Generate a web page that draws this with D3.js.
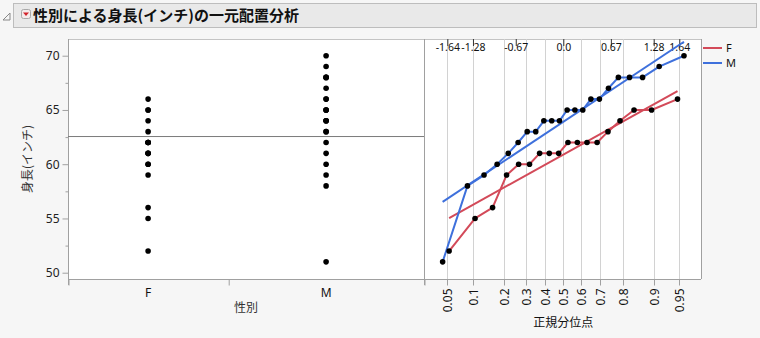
<!DOCTYPE html>
<html>
<head>
<meta charset="utf-8">
<script src="https://cdn.jsdelivr.net/npm/d3@7"></script>
<style>
  html, body { margin: 0; padding: 0; background: #f6f6f6; }
  svg { display: block; }
  text { font-family: "Noto Sans", "Noto Sans CJK JP", sans-serif; }
  .jp { font-family: "Noto Sans CJK JP", sans-serif; }
</style>
</head>
<body>
<svg id="chart" width="760" height="338"></svg>
<script>
// Heights (inches) by sex
const categories = ["F", "M"];
const heightsF = [52, 55, 56, 59, 60, 60, 61, 61, 61, 62, 62, 62, 62, 63, 64, 65, 65, 66];
const heightsM = [51, 58, 59, 60, 61, 62, 63, 63, 64, 64, 64, 65, 65, 65, 66, 66, 67, 68, 68, 68, 69, 70];
const seriesColors = ["#d34a59", "#3e70dc"];

// Axis ticks
const yTicks = [50, 55, 60, 65, 70];
const yMinorTicks = [52.5, 57.5, 62.5, 67.5];
const probTicks = [0.05, 0.1, 0.2, 0.3, 0.4, 0.5, 0.6, 0.7, 0.8, 0.9, 0.95];
const zTicks = [-1.645, -1.2816, -0.6745, 0, 0.6745, 1.2816, 1.645];
const zTickLabels = ["-1.64", "-1.28", "-0.67", "0.0", "0.67", "1.28", "1.64"];

const title = "性別による身長(インチ)の一元配置分析";
const yLabel = "身長(インチ)";
const xLabel = "性別";
const qLabel = "正規分位点";

// Inverse standard normal CDF (Acklam's rational approximation)
function qnorm(p) {
  const a = [-3.969683028665376e+01, 2.209460984245205e+02, -2.759285104469687e+02, 1.383577518672690e+02, -3.066479806614716e+01, 2.506628277459239e+00];
  const b = [-5.447609879822406e+01, 1.615858368580409e+02, -1.556989798598866e+02, 6.680131188771972e+01, -1.328068155288572e+01];
  const c = [-7.784894002430293e-03, -3.223964580411365e-01, -2.400758277161838e+00, -2.549732539343734e+00, 4.374664141464968e+00, 2.938163982698783e+00];
  const d = [7.784695709041462e-03, 3.224671290700398e-01, 2.445134137142996e+00, 3.754408661907416e+00];
  const pl = 0.02425;
  let q, r;
  if (p < pl) {
    q = Math.sqrt(-2 * Math.log(p));
    return (((((c[0]*q+c[1])*q+c[2])*q+c[3])*q+c[4])*q+c[5]) / ((((d[0]*q+d[1])*q+d[2])*q+d[3])*q+1);
  } else if (p <= 1 - pl) {
    q = p - 0.5; r = q * q;
    return (((((a[0]*r+a[1])*r+a[2])*r+a[3])*r+a[4])*r+a[5])*q / (((((b[0]*r+b[1])*r+b[2])*r+b[3])*r+b[4])*r+1);
  } else {
    q = Math.sqrt(-2 * Math.log(1 - p));
    return -(((((c[0]*q+c[1])*q+c[2])*q+c[3])*q+c[4])*q+c[5]) / ((((d[0]*q+d[1])*q+d[2])*q+d[3])*q+1);
  }
}

const groups = [heightsF, heightsM].map((vals, i) => {
  const sorted = vals.slice().sort((a, b) => a - b);
  const n = sorted.length;
  const pts = sorted.map((v, k) => ({ z: qnorm((k + 1) / (n + 1)), v }));
  return { name: categories[i], vals: sorted, n, mean: d3.mean(sorted), sd: d3.deviation(sorted), pts, color: seriesColors[i] };
});
const allHeights = heightsF.concat(heightsM);
const grandMean = d3.mean(allHeights);

const svg = d3.select("#chart");

// Title bar
svg.append("rect").attr("x", 13.5).attr("y", 3.5).attr("width", 743).attr("height", 24)
  .attr("fill", "#e9e9e9").attr("stroke", "#bdbdbd");
svg.append("path").attr("d", "M3,20 L10,13 L10,20 Z").attr("fill", "none").attr("stroke", "#888").attr("stroke-width", 1);
svg.append("rect").attr("x", 21.5).attr("y", 9.5).attr("width", 9).attr("height", 9).attr("rx", 2)
  .attr("fill", "#f4eaea").attr("stroke", "#a8a8a8");
svg.append("path").attr("d", "M23,12.5 L29,12.5 L26,16 Z").attr("fill", "#d2232a");
svg.append("text").attr("class", "jp").attr("x", 33).attr("y", 21)
  .attr("font-size", 15).attr("font-weight", "bold").attr("fill", "#111").text(title);

// Layout
const plotTop = 39, plotBottom = 279, plotLeft = 68, plotMid = 424, plotRight = 701;

const y = d3.scaleLinear().domain([49.42, 71.54]).range([plotBottom, plotTop]);
// Categories take width in proportion to group size
const xCount = d3.scaleLinear().domain([0, allHeights.length]).range([plotLeft, plotMid]);
const bandEdges = [0, groups[0].n, groups[0].n + groups[1].n];
const zScale = d3.scaleLinear().domain([-1.976, 1.953]).range([plotMid, plotRight]);

// Plot backgrounds
svg.append("rect").attr("x", plotLeft).attr("y", plotTop).attr("width", plotRight - plotLeft).attr("height", plotBottom - plotTop).attr("fill", "#fff");
svg.append("line").attr("x1", plotLeft).attr("x2", plotRight).attr("y1", plotTop + 0.5).attr("y2", plotTop + 0.5).attr("stroke", "#c4c4c4");
svg.append("line").attr("x1", plotRight + 0.5).attr("x2", plotRight + 0.5).attr("y1", plotTop).attr("y2", plotBottom).attr("stroke", "#a0a0a0");

// Y axis
const yAxis = d3.axisLeft(y).tickValues(yTicks).tickSize(6).tickPadding(3).tickFormat(d3.format("d"));
const gy = svg.append("g").attr("transform", `translate(${plotLeft + 0.5},0)`).call(yAxis);
gy.select(".domain").remove();
gy.selectAll("line").attr("stroke", "#a0a0a0");
gy.selectAll("text").attr("font-size", 12).attr("fill", "#222");
const gyMinor = svg.append("g").attr("transform", `translate(${plotLeft + 0.5},0)`)
  .call(d3.axisLeft(y).tickValues(yMinorTicks).tickSize(3).tickFormat(""));
gyMinor.select(".domain").remove();
gyMinor.selectAll("line").attr("stroke", "#a0a0a0");
svg.append("line").attr("x1", plotLeft + 0.5).attr("x2", plotLeft + 0.5).attr("y1", plotTop).attr("y2", plotBottom + 6).attr("stroke", "#a0a0a0");
svg.append("text").attr("class", "jp").attr("transform", `translate(32,${(plotTop + plotBottom) / 2}) rotate(-90)`)
  .attr("text-anchor", "middle").attr("font-size", 12).attr("fill", "#333").text(yLabel);

// Category axis (bottom, left panel)
svg.append("line").attr("x1", plotLeft).attr("x2", plotRight).attr("y1", plotBottom + 0.5).attr("y2", plotBottom + 0.5).attr("stroke", "#a0a0a0");
const gx = svg.append("g").attr("transform", `translate(0,${plotBottom + 0.5})`)
  .call(d3.axisBottom(xCount).tickValues(bandEdges).tickSize(6).tickFormat(""));
gx.select(".domain").remove();
gx.selectAll("line").attr("stroke", "#a0a0a0").attr("transform", "translate(0.5,0)");
groups.forEach((g, i) => {
  const cx = xCount((bandEdges[i] + bandEdges[i + 1]) / 2);
  svg.append("text").attr("x", cx).attr("y", plotBottom + 18).attr("text-anchor", "middle")
    .attr("font-size", 12).attr("fill", "#111").text(g.name);
});
svg.append("text").attr("class", "jp").attr("x", xCount(allHeights.length / 2)).attr("y", plotBottom + 33)
  .attr("text-anchor", "middle").attr("font-size", 12).attr("fill", "#333").text(xLabel);

// Grand mean line across the one-way panel
svg.append("line").attr("x1", plotLeft).attr("x2", plotMid).attr("y1", y(grandMean)).attr("y2", y(grandMean))
  .attr("stroke", "#7a7a7a").attr("stroke-width", 1);

// One-way points
groups.forEach((g, i) => {
  const cx = xCount((bandEdges[i] + bandEdges[i + 1]) / 2);
  svg.append("g").selectAll("circle").data(g.vals).join("circle")
    .attr("cx", cx).attr("cy", d => y(d)).attr("r", 2.8).attr("fill", "#000");
});

// Normal quantile panel: gridlines at probability ticks
svg.append("g").selectAll("line").data(probTicks).join("line")
  .attr("x1", d => Math.round(zScale(qnorm(d))) + 0.5).attr("x2", d => Math.round(zScale(qnorm(d))) + 0.5)
  .attr("y1", plotTop).attr("y2", plotBottom).attr("stroke", "#d2d2d2");
svg.append("line").attr("x1", plotMid + 0.5).attr("x2", plotMid + 0.5).attr("y1", plotTop).attr("y2", plotBottom + 6).attr("stroke", "#a0a0a0");

// Bottom probability axis
const probScale = p => zScale(qnorm(p));
const gp = svg.append("g").attr("transform", `translate(0,${plotBottom + 0.5})`);
probTicks.forEach(p => {
  const px = Math.round(probScale(p)) + 0.5;
  gp.append("line").attr("x1", px).attr("x2", px).attr("y1", 0).attr("y2", 6).attr("stroke", "#a0a0a0");
  gp.append("text").attr("transform", `translate(${px + 4},9) rotate(-90)`).attr("text-anchor", "end")
    .attr("font-size", 12).attr("fill", "#111").text(String(p));
});
svg.append("text").attr("class", "jp").attr("x", zScale(0)).attr("y", 327).attr("text-anchor", "middle")
  .attr("font-size", 12).attr("fill", "#111").text(qLabel);

// Top normal quantile axis (inside the frame)
const gz = svg.append("g").attr("transform", `translate(0,${plotTop})`)
  .call(d3.axisBottom(zScale).tickValues(zTicks).tickSize(7).tickPadding(-2).tickFormat((d, i) => zTickLabels[i]));
gz.select(".domain").remove();
gz.selectAll("line").attr("stroke", "#333");
gz.selectAll("text").attr("font-size", 10.5).attr("fill", "#111").attr("dy", "0.35em").attr("y", 8);

// Fitted normal lines, then quantile polylines, then points
const lineGen = d3.line().x(d => zScale(d.z)).y(d => y(d.v));
groups.forEach(g => {
  const z0 = g.pts[0].z, z1 = g.pts[g.n - 1].z;
  svg.append("path").datum([{ z: z0, v: g.mean + g.sd * z0 }, { z: z1, v: g.mean + g.sd * z1 }])
    .attr("d", lineGen).attr("fill", "none").attr("stroke", g.color).attr("stroke-width", 2);
});
groups.forEach(g => {
  svg.append("path").datum(g.pts).attr("d", lineGen).attr("fill", "none")
    .attr("stroke", g.color).attr("stroke-width", 2).attr("stroke-linejoin", "round");
});
groups.forEach(g => {
  svg.append("g").selectAll("circle").data(g.pts).join("circle")
    .attr("cx", d => zScale(d.z)).attr("cy", d => y(d.v)).attr("r", 2.8).attr("fill", "#000");
});

// Legend
groups.forEach((g, i) => {
  const ly = 48 + i * 15;
  svg.append("line").attr("x1", 703).attr("x2", 722).attr("y1", ly).attr("y2", ly)
    .attr("stroke", g.color).attr("stroke-width", 2);
  svg.append("text").attr("x", 726).attr("y", ly + 4).attr("font-size", 11).attr("fill", "#111").text(g.name);
});
</script>
</body>
</html>
